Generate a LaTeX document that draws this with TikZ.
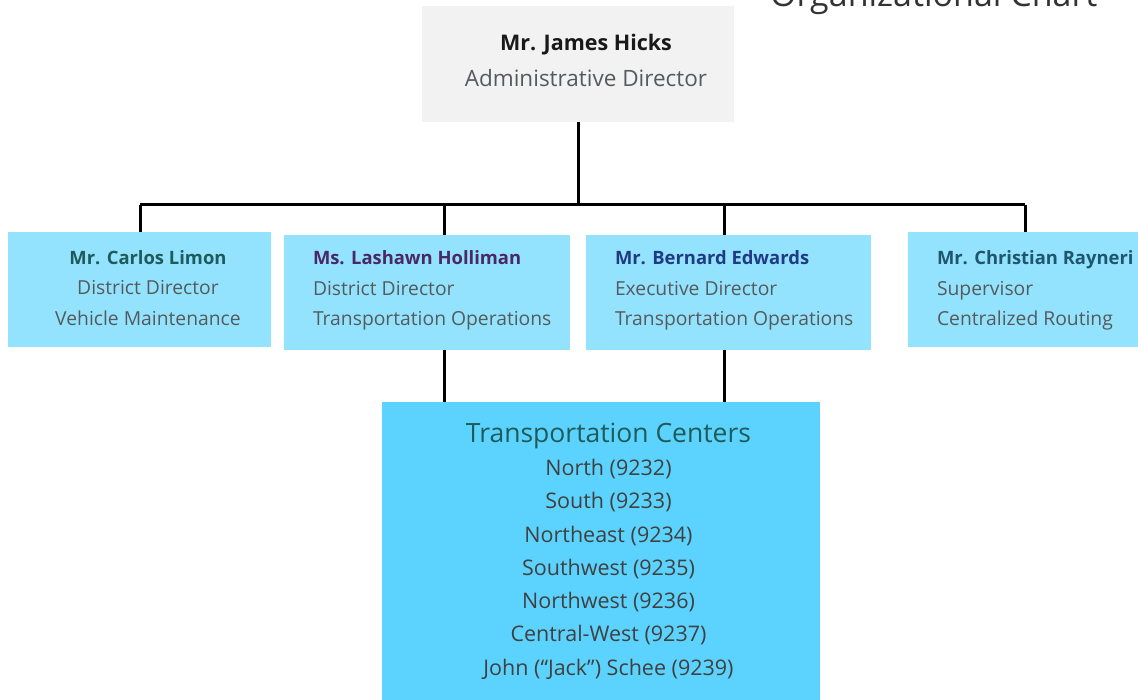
\documentclass[tikz,border=0pt]{standalone}
\usepackage{fontspec}
\setmainfont{Open Sans}
\usetikzlibrary{positioning}

\definecolor{headgray}{HTML}{F2F2F2}
\definecolor{paleblue}{HTML}{94E3FE}
\definecolor{deepblue}{HTML}{5CD3FE}
\definecolor{rolegray}{HTML}{555A5C}
\definecolor{tealname}{HTML}{1E5B5A}
\definecolor{plumname}{HTML}{4A2766}
\definecolor{navyname}{HTML}{1F3B84}
\definecolor{petrolname}{HTML}{1E566E}

\newcommand{\who}[2]{{\color{#1}\bfseries\fontsize{18.4}{30}\selectfont #2}}

\tikzset{
		% boxes of the chart: head, staff and centres
		head box/.style={rectangle,fill=headgray,inner sep=0pt,minimum width=312pt,minimum height=116pt},
		staff box/.style={rectangle,fill=paleblue,inner sep=0pt,minimum height=115pt},
		centre box/.style={rectangle,fill=deepblue,inner sep=0pt,minimum width=438pt,minimum height=298pt},
		% texts laid on the boxes
		head text/.style={inner sep=0pt,align=center,text=rolegray,font=\fontsize{22.5}{36}\selectfont},
		staff text/.style={inner sep=0pt,text=rolegray,font=\fontsize{19.3}{30.5}\selectfont},
		centre text/.style={inner sep=0pt,align=center,text=black!75,font=\fontsize{21.5}{33.3}\selectfont},
		link/.style={draw,black,line width=3pt}
	}

\begin{document}
\begin{tikzpicture}
		[
			x=1pt,y=-1pt
		]
		\useasboundingbox (0,0) rectangle (1138,700);
		\node [anchor=base east,text=black!80,font=\fontsize{34}{34}\selectfont] (charttitle) at (1101,6.5) {Organizational Chart};
		% top of the tree
		\node [head box] (hicks) at (578,64) {};
		\node [head text] (hickstext) at (586,60) {{\color{black!90}\bfseries\fontsize{21.5}{36}\selectfont Mr. James Hicks}\\Administrative Director};
		% second row
		\node [staff box,minimum width=263pt] (limon) at (139.5,290) {};
		\node [staff box,minimum width=286pt] (holliman) at (427,292.5) {};
		\node [staff box,minimum width=285pt] (edwards) at (728.5,292.5) {};
		\node [staff box,minimum width=230pt] (rayneri) at (1023,290) {};
		\node [staff text,align=center] (limontext) at (148,287.7) {\who{tealname}{Mr. Carlos Limon}\\District Director\\Vehicle Maintenance};
		\node [staff text,align=left,right=29pt of holliman.west,yshift=2.1pt] (hollimantext) {\who{plumname}{Ms. Lashawn Holliman}\\District Director\\Transportation Operations};
		\node [staff text,align=left,right=29pt of edwards.west,yshift=2.1pt] (edwardstext) {\who{navyname}{Mr. Bernard Edwards}\\Executive Director\\Transportation Operations};
		\node [staff text,align=left,right=29pt of rayneri.west,yshift=-0.4pt] (raynerytext) {\who{petrolname}{Mr. Christian Rayneri}\\Supervisor\\Centralized Routing};
		% centres
		\node [centre box] (centers) at (601,551) {};
		\node [centre text] (centerstext) at (608.5,551) {{\color{tealname}\fontsize{26.5}{36}\selectfont Transportation Centers}\\North (9232)\\South (9233)\\Northeast (9234)\\Southwest (9235)\\Northwest (9236)\\Central-West (9237)\\John (“Jack”) Schee (9239)};
		% connectors
		\coordinate (hub) at (578,205);
		\coordinate (j1) at (140,205);
		\coordinate (j2) at (444,205);
		\coordinate (j3) at (724,205);
		\coordinate (j4) at (1025,205);
		\draw [link] (hicks.south) -- (hub);
		\draw [link] (j1) -- (j4);
		\draw [link] (j1) -- (j1 |- limon.north);
		\draw [link] (j2) -- (j2 |- holliman.north);
		\draw [link] (j3) -- (j3 |- edwards.north);
		\draw [link] (j4) -- (j4 |- rayneri.north);
		\draw [link] (j2 |- holliman.south) -- (j2 |- centers.north);
		\draw [link] (j3 |- edwards.south) -- (j3 |- centers.north);
	\end{tikzpicture}
\end{document}
